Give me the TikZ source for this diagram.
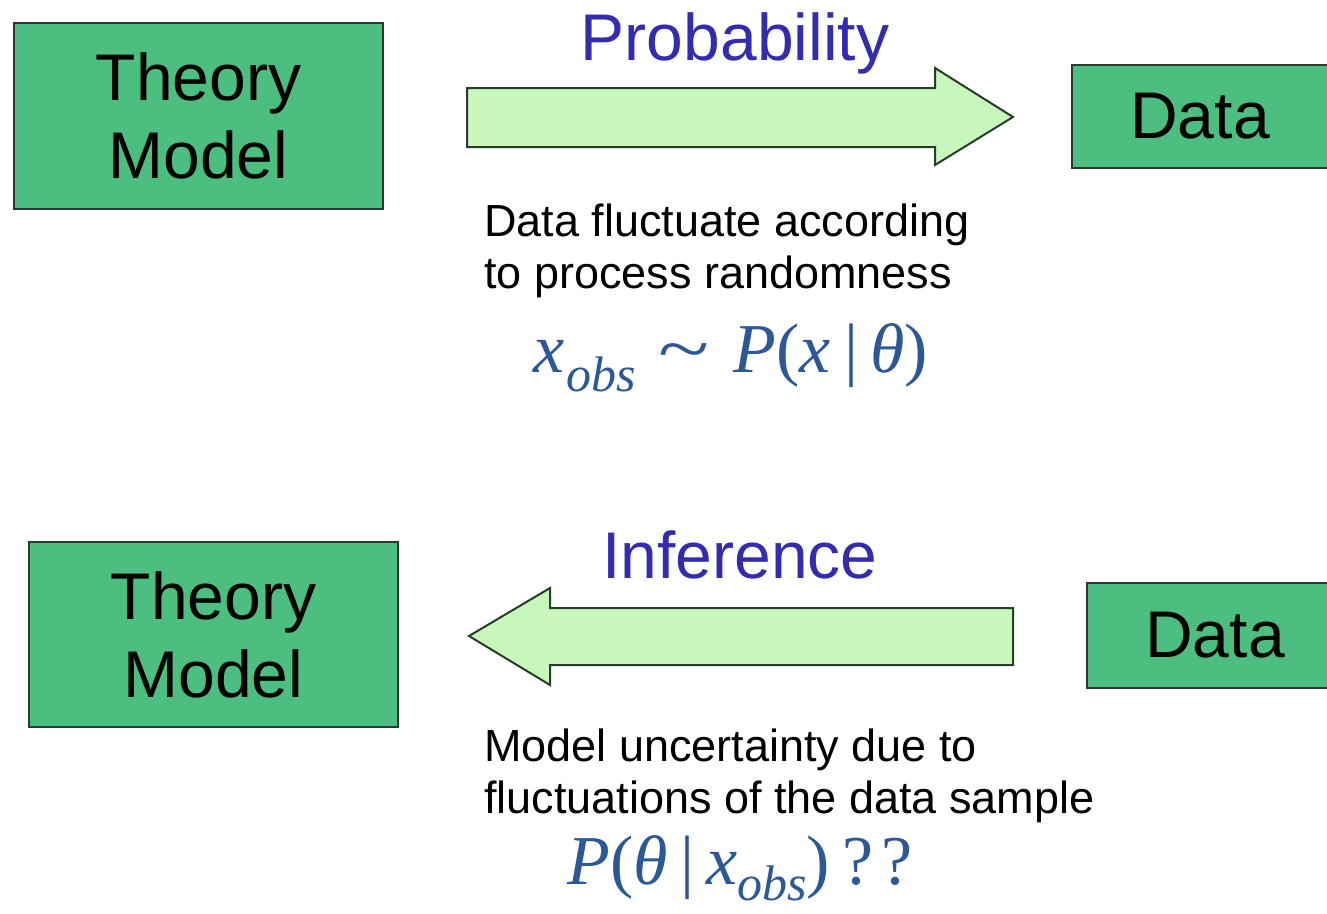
\documentclass[tikz,border=0pt]{standalone}
\usepackage{fontspec}
\setmainfont{Liberation Sans}
\newfontfamily\tim{Liberation Serif}
\definecolor{boxgreen}{RGB}{76,190,128}
\definecolor{boxline}{RGB}{40,60,45}
\definecolor{arrowfill}{RGB}{200,247,188}
\definecolor{titleblue}{RGB}{52,44,176}
\definecolor{formblue}{RGB}{45,88,152}
\begin{document}
\begin{tikzpicture}[x=1pt,y=-1pt,
  box/.style={draw=boxline, line width=2pt, fill=boxgreen, align=center, inner sep=0pt,
              font=\fontsize{66}{78}\selectfont},
  blockarrow/.style={draw=boxline, line width=2pt, fill=arrowfill, line join=miter},
  title/.style={text=titleblue, font=\fontsize{66}{78}\selectfont, inner sep=0pt, anchor=base},
  note/.style={font=\fontsize{45}{52}\selectfont, align=left, inner sep=0pt, anchor=base west},
  formula/.style={text=formblue, font=\tim\fontsize{70}{80}\selectfont, inner sep=0pt, anchor=base}]
\useasboundingbox (0,0) rectangle (1327,913);
\fill[white] (0,0) rectangle (1327,913);

% top row
\node[box, minimum width=369, minimum height=186] (theory1) at (198.5,116) {Theory\\Model};
\node[box, minimum width=256, minimum height=103] (data1) at (1200,116.5) {Data};
\draw[blockarrow] (467,88) -- (935,88) -- (935,68) -- (1013,117) -- (935,165) -- (935,147) -- (467,147) -- cycle;
\node[title] (prob) at (735,60) {Probability};
\node[note] (note1) at (484,288) {Data fluctuate according\\to process randomness};
\node[formula] (form1) at (731,372) {\itshape x\kern2pt\raisebox{-19pt}{\fontsize{50}{50}\selectfont obs}\kern22pt{\upshape\scalebox{1.35}[1]{\char"7E}}\kern24pt P{\upshape(}x\kern14pt{\upshape|}\kern12pt θ{\upshape)}};

% bottom row
\node[box, minimum width=369, minimum height=185] (theory2) at (213.5,634.5) {Theory\\Model};
\node[box, minimum width=256, minimum height=105] (data2) at (1215,635.5) {Data};
\draw[blockarrow] (1013,608) -- (550,608) -- (550,588) -- (469,636) -- (550,685) -- (550,665) -- (1013,665) -- cycle;
\node[title] (inf) at (740,578) {Inference};
\node[note] (note2) at (484,813) {Model uncertainty due to\\fluctuations of the data sample};
\node[formula] (form2) at (740,884) {\itshape P{\upshape(}θ\kern12pt{\upshape|}\kern12pt x\raisebox{-16pt}{\fontsize{50}{50}\selectfont obs}{\upshape)}\kern12pt{\upshape ?\kern8pt?}};
\end{tikzpicture}
\end{document}
